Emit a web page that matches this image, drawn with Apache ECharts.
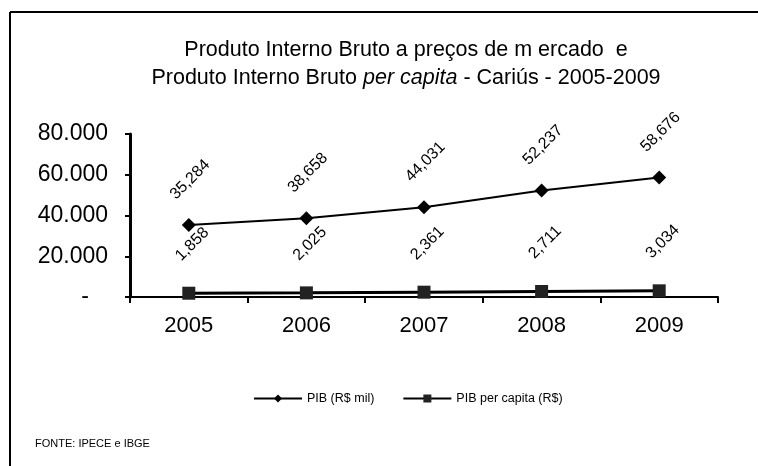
<!DOCTYPE html>
<html><head><meta charset="utf-8">
<script src="https://cdn.jsdelivr.net/npm/echarts@6/dist/echarts.min.js"></script>
<style>html,body{margin:0;padding:0;background:#fff}#c{width:758px;height:466px}</style>
</head><body><div id="c"></div>
<script>
const categories = ['2005', '2006', '2007', '2008', '2009'];
const pibValues = [35284, 38658, 44031, 52237, 58676];
const pibPerCapita = [1858, 2025, 2361, 2711, 3034];
const yTicks = [0, 20000, 40000, 60000, 80000];
const seriesNames = ['PIB (R$ mil)', 'PIB per capita (R$)'];

const font = 'Liberation Sans, Arial, sans-serif';
const fmtComma = v => v.toLocaleString('en-US');
const fmtDot = v => v === 0 ? '-   ' : v.toLocaleString('en-US').replace(/,/g, '.');

const chart = echarts.init(document.getElementById('c'));
chart.setOption({
  backgroundColor: '#fff',
  animation: false,
  textStyle: { fontFamily: font, color: '#000' },
  title: {
    text: 'Produto Interno Bruto a preços de m ercado  e\nProduto Interno Bruto {i|per capita} - Cariús - 2005-2009',
    left: 401, top: 31, textAlign: 'center',
    textStyle: {
      fontFamily: font, fontSize: 21.5, fontWeight: 'normal', color: '#000', lineHeight: 28,
      rich: { i: { fontFamily: font, fontSize: 21.5, fontStyle: 'italic', color: '#000' } }
    }
  },
  grid: { left: 130, right: 40, top: 134, bottom: 169 },
  legend: {
    data: seriesNames,
    left: 248, top: 387,
    itemWidth: 48, itemHeight: 10, itemGap: 28,
    textStyle: { fontFamily: font, fontSize: 12.5, color: '#000' }
  },
  xAxis: {
    type: 'category', data: categories, boundaryGap: true,
    axisLine: { lineStyle: { color: '#000', width: 2 } },
    axisTick: { show: true, inside: false, length: 6, lineStyle: { color: '#000', width: 2 } },
    axisLabel: { fontFamily: font, fontSize: 22, color: '#000', margin: 18 }
  },
  yAxis: {
    type: 'value', min: yTicks[0], max: yTicks[yTicks.length - 1], interval: yTicks[1] - yTicks[0],
    axisLine: { show: true, lineStyle: { color: '#000', width: 3 } },
    axisTick: { show: true, length: 5, lineStyle: { color: '#000', width: 2 } },
    splitLine: { show: false },
    axisLabel: { fontFamily: font, fontSize: 23, color: '#000', margin: 22, formatter: fmtDot }
  },
  series: [
    {
      name: seriesNames[0], type: 'line', data: pibValues,
      symbol: 'diamond', symbolSize: 14,
      lineStyle: { color: '#000', width: 2 }, itemStyle: { color: '#000' },
      label: {
        show: true, position: 'top', distance: 37, rotate: 45, offset: [2, 0],
        align: 'center', verticalAlign: 'middle',
        fontFamily: font, fontSize: 16, color: '#000',
        formatter: p => fmtComma(p.value)
      }
    },
    {
      name: seriesNames[1], type: 'line', data: pibPerCapita,
      symbol: 'rect', symbolSize: 13,
      lineStyle: { color: '#000', width: 3 }, itemStyle: { color: '#222' },
      label: {
        show: true, position: 'top', distance: 39, rotate: 45, offset: [5, 0],
        align: 'center', verticalAlign: 'middle',
        fontFamily: font, fontSize: 16, color: '#000',
        formatter: p => fmtComma(p.value)
      }
    }
  ],
  graphic: [
    { type: 'line', shape: { x1: 10, y1: 12, x2: 10, y2: 466 }, style: { stroke: '#000', lineWidth: 2 } },
    { type: 'line', shape: { x1: 10, y1: 12, x2: 758, y2: 12 }, style: { stroke: '#000', lineWidth: 2 } },
    { type: 'text', left: 35, top: 438, style: { text: 'FONTE: IPECE e IBGE', fontFamily: font, fontSize: 11, fill: '#000' } }
  ]
});
</script></body></html>
